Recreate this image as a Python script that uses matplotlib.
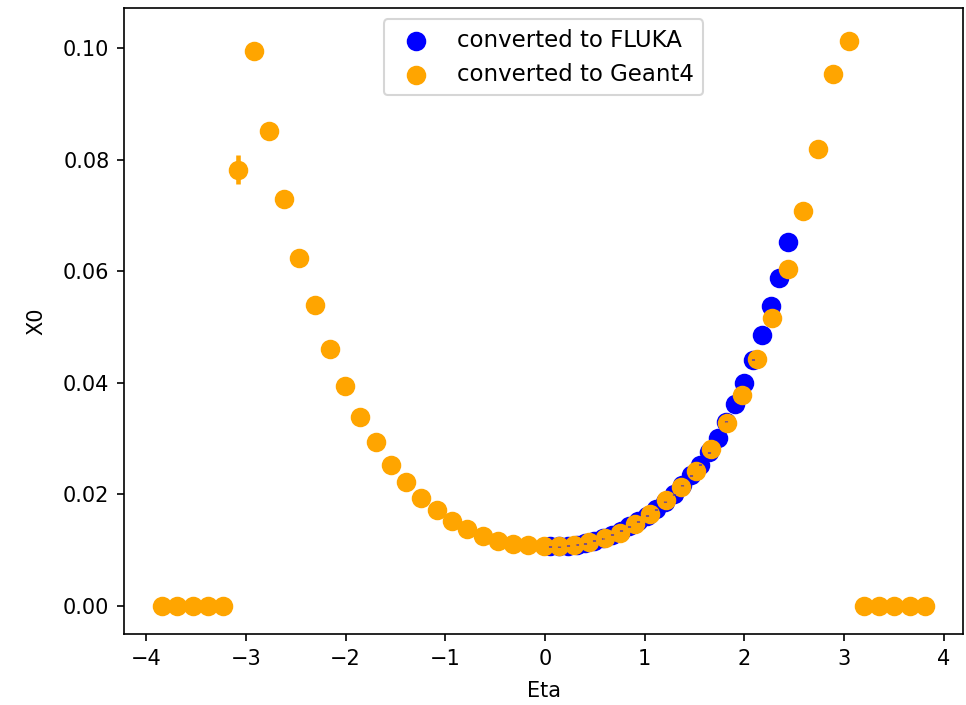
import matplotlib
matplotlib.use("Agg")
import matplotlib.pyplot as plt

# Geant4 (orange) eta bin centres and X0 values
eta_g4 = [-3.840, -3.687, -3.534, -3.381, -3.228, -3.075, -2.922, -2.769, -2.616, -2.463,
          -2.310, -2.157, -2.004, -1.851, -1.698, -1.545, -1.392, -1.239, -1.086, -0.933,
          -0.780, -0.627, -0.474, -0.321, -0.168, -0.015, 0.138, 0.291, 0.444, 0.597,
          0.750, 0.903, 1.056, 1.209, 1.362, 1.515, 1.668, 1.821, 1.974, 2.127,
          2.280, 2.433, 2.586, 2.739, 2.892, 3.045, 3.198, 3.351, 3.504, 3.657, 3.810]
x0_g4 = [0.0, 0.0, 0.0, 0.0, 0.0, 0.0782, 0.0994, 0.0851, 0.0729, 0.0624,
         0.0540, 0.0461, 0.0394, 0.0338, 0.0293, 0.0253, 0.0222, 0.0193, 0.0171, 0.0152,
         0.0137, 0.0125, 0.0116, 0.0111, 0.0108, 0.0107, 0.0107, 0.0109, 0.0114, 0.0121,
         0.0130, 0.0147, 0.0165, 0.0189, 0.0212, 0.0241, 0.0280, 0.0327, 0.0378, 0.0442,
         0.0516, 0.0604, 0.0707, 0.0819, 0.0953, 0.1013, 0.0, 0.0, 0.0, 0.0, 0.0]
err_g4 = [0.0, 0.0, 0.0, 0.0, 0.0, 0.0026, 0.0004, 0.0004, 0.0003, 0.0003,
          0.0003, 0.0002, 0.0002, 0.0002, 0.0002, 0.0002, 0.0001, 0.0001, 0.0001, 0.0001,
          0.0001, 0.0001, 0.0001, 0.0001, 0.0001, 0.0001, 0.0001, 0.0001, 0.0001, 0.0001,
          0.0001, 0.0001, 0.0001, 0.0001, 0.0002, 0.0002, 0.0002, 0.0002, 0.0002, 0.0003,
          0.0003, 0.0003, 0.0003, 0.0004, 0.0004, 0.0008, 0.0, 0.0, 0.0, 0.0, 0.0]

# FLUKA (blue) eta bin centres and X0 values
eta_fluka = [0.050, 0.139, 0.227, 0.316, 0.404, 0.493, 0.581, 0.670, 0.758, 0.847,
             0.935, 1.024, 1.112, 1.201, 1.289, 1.378, 1.466, 1.555, 1.643, 1.732,
             1.820, 1.909, 1.997, 2.086, 2.174, 2.263, 2.351, 2.440]
x0_fluka = [0.0106, 0.0106, 0.0107, 0.0109, 0.0112, 0.0116, 0.0121, 0.0127, 0.0134, 0.0142,
            0.0151, 0.0161, 0.0173, 0.0186, 0.0200, 0.0216, 0.0234, 0.0253, 0.0275, 0.0300,
            0.0330, 0.0362, 0.0400, 0.0441, 0.0486, 0.0537, 0.0588, 0.0652]
err_fluka = [0.0001] * 28

fig = plt.figure(figsize=(6.44, 4.70), dpi=150)
ax = fig.add_axes([0.1284, 0.1007, 0.9969 - 0.1284, 0.9887 - 0.1007])

ax.errorbar(eta_fluka, x0_fluka, yerr=err_fluka, fmt='none', ecolor='blue', elinewidth=1.5)
ax.scatter(eta_fluka, x0_fluka, s=70, color='blue', label='converted to FLUKA')
ax.errorbar(eta_g4, x0_g4, yerr=err_g4, fmt='none', ecolor='orange', elinewidth=2.2)
ax.scatter(eta_g4, x0_g4, s=70, color='orange', label='converted to Geant4')

ax.set_xlabel('Eta', labelpad=6)
ax.set_ylabel('X0', labelpad=8)
ax.legend(loc='upper center', fontsize=11)

fig.savefig('out.png', dpi=150)
